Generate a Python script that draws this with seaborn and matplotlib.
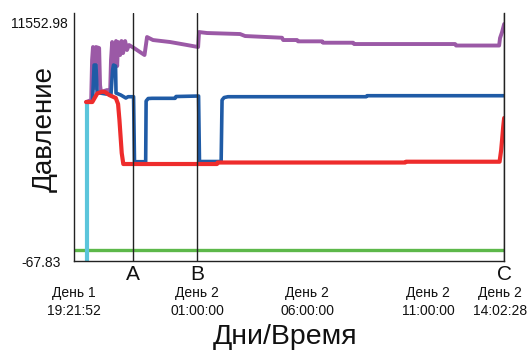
import numpy as np
import pandas as pd
import matplotlib
matplotlib.use("Agg")
import matplotlib.pyplot as plt
import matplotlib.transforms as mtransforms
import seaborn as sns

# ---- data (x in hours since День 1 19:21:52, y = pressure) ----
green_x = [0.0, 18.86]
green_y = [469, 469]

cyan_x = [0.55, 0.55]
cyan_y = [-67.83, 7686]

red_x = [0.53, 0.80, 1.02, 1.23, 1.36, 1.54, 1.83, 1.93, 1.99, 2.09, 2.16,
         6.27, 6.29, 14.52, 14.56, 18.66, 18.73, 18.77, 18.82, 18.86]
red_y = [7686, 7686, 8111, 8189, 8174, 8028, 7882, 7589, 6809, 5199, 4663,
         4663, 4736, 4736, 4775, 4775, 5346, 5833, 6482, 6906]

blue_x = [0.81, 0.88, 0.96, 1.01, 1.14, 1.40, 1.62, 1.69, 1.73, 1.82, 1.84,
          2.05, 2.27, 2.37, 2.61, 2.65, 3.14, 3.16, 3.25, 3.42, 4.43, 4.47,
          5.46, 5.50, 6.45, 6.49, 6.58, 6.75, 12.81, 12.85, 18.86]
blue_y = [7735, 9491, 9491, 8174, 8125, 8077, 8077, 9247, 9491, 9442, 8125,
          8028, 7882, 7945, 7945, 4775, 4775, 7735, 7857, 7867, 7867, 7955,
          7979, 4785, 4785, 7784, 7906, 7945, 7945, 7994, 7994]

purple_x = [0.53, 0.75, 0.79, 0.83, 0.92, 0.96, 1.10, 1.14, 1.18, 1.45, 1.58,
            1.62, 1.67, 1.75, 1.84, 1.89, 1.93, 2.02, 2.08, 2.15, 2.24, 2.32,
            2.41, 2.63, 2.89, 3.09, 3.20, 3.46, 4.21, 4.96, 5.44, 5.48, 5.83,
            7.28, 7.50, 9.12, 9.17, 9.78, 9.82, 10.88, 10.92, 12.24, 12.28,
            16.71, 16.75, 18.64, 18.68, 18.77, 18.86]
purple_y = [7686, 7784, 9735, 10369, 8369, 10369, 10320, 8516, 8174, 8272, 8125,
            9735, 10613, 9003, 10662, 9442, 10613, 9979, 10662, 10076, 10662, 10222,
            10466, 10320, 10125, 9979, 10857, 10710, 10613, 10466, 10369, 11100, 11052,
            11003, 10905, 10822, 10710, 10710, 10646, 10646, 10579, 10579, 10515,
            10515, 10442, 10442, 10808, 11100, 11490]

marker_x = [2.575, 5.395, 18.86]
marker_labels = ["A", "B", "C"]

tick_pos = [0.0, 5.395, 10.22, 15.53, 18.68]
tick_labels = ["День 1\n19:21:52", "День 2\n01:00:00", "День 2\n06:00:00",
               "День 2\n11:00:00", "День 2\n14:02:28"]

y_min, y_max = -67.83, 11552.98

# ---- plot ----
sns.set_theme(style="white")
plt.rcParams['font.family'] = ['Liberation Sans', 'DejaVu Sans']

fig = plt.figure(figsize=(5.29, 3.54), dpi=100)
ax = fig.add_axes([0.140, 0.2627, 0.953 - 0.140, 0.964 - 0.2627])

series = [
    ("green", green_x, green_y, "#5DB84A", 2.4),
    ("cyan", cyan_x, cyan_y, "#5BC5DB", 3.0),
    ("purple", purple_x, purple_y, "#9B59A6", 2.8),
    ("blue", blue_x, blue_y, "#1F5BA6", 2.6),
    ("red", red_x, red_y, "#EE2C2C", 3.0),
]
for name, xs, ys, col, lw in series:
    df = pd.DataFrame({"t": xs, "p": ys})
    sns.lineplot(data=df, x="t", y="p", ax=ax, sort=False, estimator=None,
                 color=col, linewidth=lw, legend=False)

ax.set_xlim(0, 18.86)
ax.set_ylim(y_min, y_max + 488)

for mx, ml in zip(marker_x, marker_labels):
    ax.axvline(mx, color="#222222", linewidth=1.0, zorder=10)
    ax.text(mx, -0.056, ml, transform=ax.get_xaxis_transform(),
            ha="center", va="center", fontsize=15, color="#111111")

ax.set_xticks(tick_pos)
ax.set_xticklabels(tick_labels)
for lab in ax.get_xticklabels():
    lab.set_linespacing(1.35)
ax.tick_params(axis="x", length=0, pad=18, labelsize=10, colors="#111111")

ax.set_yticks([y_min, y_max])
ax.set_yticklabels(["-67.83", "11552.98"])
ax.tick_params(axis="y", length=0, pad=4.3, labelsize=10, colors="#111111")
ylabs = ax.get_yticklabels()
ylabs[0].set_transform(ylabs[0].get_transform() +
                       mtransforms.ScaledTranslation(-0.07, 0, fig.dpi_scale_trans))

ax.set_xlabel("Дни/Время", fontsize=20.5, color="#111111")
ax.set_ylabel("Давление", fontsize=20, color="#111111")
ax.xaxis.set_label_coords(0.49, -0.255)
ax.yaxis.set_label_coords(-0.037, 0.53)

ax.grid(False)
for side in ["left", "bottom", "right"]:
    ax.spines[side].set_visible(True)
    ax.spines[side].set_color("#222222")
    ax.spines[side].set_linewidth(1.0)
ax.spines["top"].set_visible(False)

fig.savefig("out.png", dpi=100)
